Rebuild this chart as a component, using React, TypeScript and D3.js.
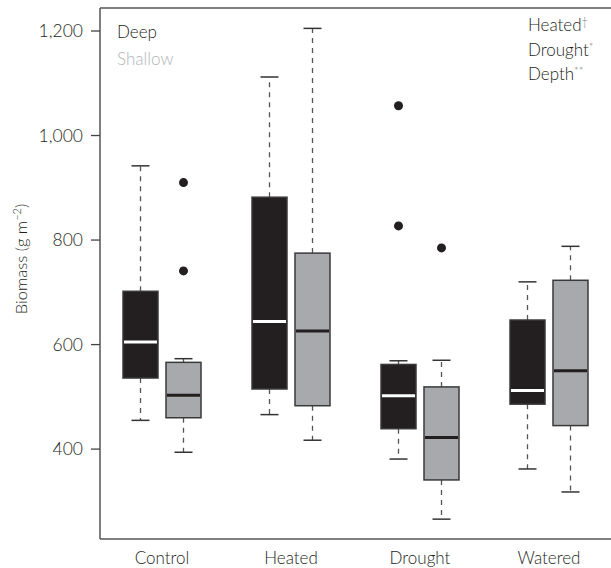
import React from "react";
import * as d3 from "d3";

const categories = ["Control", "Heated", "Drought", "Watered"];
const groups = ["Deep", "Shallow"];
// [whiskerLow, q1, median, q3, whiskerHigh]
const deepStats = [
  [455, 536, 605, 702, 942],
  [466, 515, 644, 882, 1112],
  [381, 439, 502, 562, 569],
  [362, 486, 512, 647, 720],
];
const shallowStats = [
  [394, 460, 503, 566, 573],
  [417, 483, 626, 775, 1205],
  [266, 341, 422, 519, 570],
  [318, 445, 550, 723, 788],
];
const deepOutliers = [[], [], [1057, 827], []];
const shallowOutliers = [[910, 741], [], [785], []];
const yTicks = [400, 600, 800, 1000, 1200];
const effects = [
  ["Heated", "†"],
  ["Drought", "*"],
  ["Depth", "**"],
];

const W = 611;
const H = 568;
const left = 100;
const top = 8;
const bottom = 539;
const font = "Lato, 'Open Sans', sans-serif";

export default function App() {
  const y = d3.scaleLinear().domain([228, 1244]).range([bottom, top]);
  const x = d3.scaleBand().domain(categories).range([97.5, 613.5]).padding(0);
  const boxW = 35;
  const off = 21.5;
  const capW = 18;
  const fills = ["#231f20", "#a7a9ac"];
  const medians = ["#ffffff", "#231f20"];
  const fmt = d3.format(",");
  const txt = "#231f20";

  const renderBox = (s: number[], cx: number, gi: number, key: string) => {
    const [lo, q1, med, q3, hi] = s;
    return (
      <g key={key}>
        <line x1={cx} x2={cx} y1={y(q3)} y2={y(hi)} stroke="#555" strokeWidth={1.3} strokeDasharray="5,5" />
        <line x1={cx} x2={cx} y1={y(q1)} y2={y(lo)} stroke="#555" strokeWidth={1.3} strokeDasharray="5,5" />
        <line x1={cx - capW / 2} x2={cx + capW / 2} y1={y(hi)} y2={y(hi)} stroke="#333" strokeWidth={1.5} />
        <line x1={cx - capW / 2} x2={cx + capW / 2} y1={y(lo)} y2={y(lo)} stroke="#333" strokeWidth={1.5} />
        <rect x={cx - boxW / 2} y={y(q3)} width={boxW} height={y(q1) - y(q3)} fill={fills[gi]} stroke="#3a3a3a" strokeWidth={1.5} />
        <line x1={cx - boxW / 2 + 1} x2={cx + boxW / 2 - 1} y1={y(med)} y2={y(med)} stroke={medians[gi]} strokeWidth={3} />
      </g>
    );
  };

  return (
    <svg width={W} height={H} style={{ position: "absolute", left: 0, top: 0 }} fontFamily={font} fontWeight={300}>
      <rect width={W} height={H} fill="#fff" />
      {/* frame */}
      <line x1={left} x2={left} y1={top} y2={bottom} stroke="#555" strokeWidth={1.5} />
      <line x1={left} x2={W} y1={top} y2={top} stroke="#555" strokeWidth={1.5} />
      <line x1={left} x2={W} y1={bottom} y2={bottom} stroke="#555" strokeWidth={1.5} />
      {/* y axis */}
      {yTicks.map((t) => (
        <g key={t}>
          <line x1={left - 9} x2={left} y1={y(t)} y2={y(t)} stroke="#444" strokeWidth={1.3} />
          <text x={83} y={y(t)} dy="0.35em" textAnchor="end" fontSize={17.5} fill={txt}>
            {fmt(t)}
          </text>
        </g>
      ))}
      <text transform={`translate(27,259) rotate(-90)`} textAnchor="middle" fontSize={16.5} fill={txt}>
        Biomass (g m
        <tspan fontSize={11} dy={-6}>−2</tspan>
        <tspan dy={6}>)</tspan>
      </text>
      {/* x labels */}
      {categories.map((c) => (
        <text key={c} x={(x(c) as number) + x.bandwidth() / 2} y={564} textAnchor="middle" fontSize={17} fill={txt}>
          {c}
        </text>
      ))}
      {/* boxes */}
      {categories.map((c, i) => {
        const cx = (x(c) as number) + x.bandwidth() / 2;
        return (
          <g key={c}>
            {renderBox(deepStats[i], cx - off, 0, "d")}
            {renderBox(shallowStats[i], cx + off, 1, "s")}
            {deepOutliers[i].map((v, j) => (
              <circle key={"do" + j} cx={cx - off} cy={y(v)} r={4.5} fill="#231f20" />
            ))}
            {shallowOutliers[i].map((v, j) => (
              <circle key={"so" + j} cx={cx + off} cy={y(v)} r={4.5} fill="#231f20" />
            ))}
          </g>
        );
      })}
      {/* legend */}
      {groups.map((g, i) => (
        <text key={g} x={117} y={38 + i * 27} fontSize={17} fill={i === 0 ? "#231f20" : "#b3b5b8"}>
          {g}
        </text>
      ))}
      {effects.map((e, i) => (
        <text key={e[0]} x={528} y={31 + i * 24.5} fontSize={17} fill={txt}>
          {e[0]}
          <tspan fontSize={11} dy={-5} fill="#777">{e[1]}</tspan>
        </text>
      ))}
    </svg>
  );
}
